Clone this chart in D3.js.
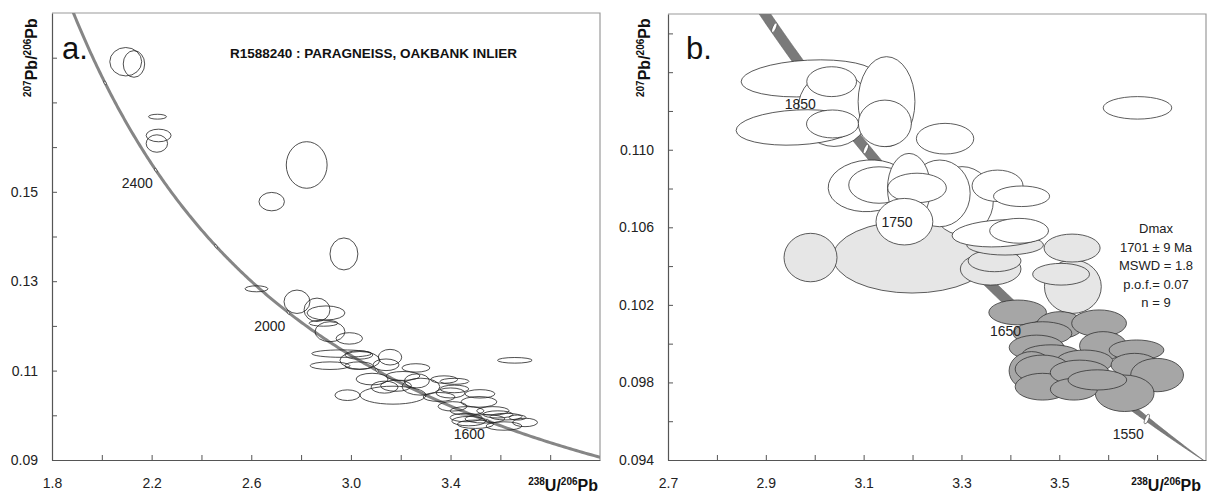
<!DOCTYPE html>
<html>
<head>
<meta charset="utf-8">
<script src="https://cdn.jsdelivr.net/npm/d3@7"></script>
<style>
  body { margin: 0; background: #fff; }
  svg { display: block; }
  text { font-family: "Liberation Sans", Arial, sans-serif; }
</style>
</head>
<body>
<svg id="chart" width="1214" height="496"></svg>
<script>
// ---- Tera-Wasserburg data: [238U/206Pb, 207Pb/206Pb, half-axis x, half-axis y, tilt deg] ----

// Panel a: all analyses
const spotsA = [
  [2.096, 0.1791, 0.064, 0.00318], [2.129, 0.1786, 0.043, 0.00298],
  [2.2235, 0.1668, 0.036, 0.00054], [2.228, 0.1626, 0.050, 0.00141], [2.221, 0.1608, 0.043, 0.00195],
  [2.8225, 0.1560, 0.082, 0.00521], [2.682, 0.1478, 0.051, 0.00206], [2.972, 0.1361, 0.056, 0.00358],
  [2.621, 0.1283, 0.046, 0.00067], [2.7835, 0.1254, 0.052, 0.00262], [2.864, 0.1236, 0.052, 0.00262],
  [2.900, 0.1229, 0.076, 0.00157], [2.890, 0.1206, 0.058, 0.00067], [2.916, 0.1187, 0.060, 0.00224],
  [2.9935, 0.1172, 0.053, 0.00128], [2.963, 0.1138, 0.120, 0.00083], [3.032, 0.1135, 0.056, 0.00094],
  [3.036, 0.1123, 0.080, 0.00197], [3.157, 0.1130, 0.047, 0.00175], [2.916, 0.1111, 0.080, 0.00085],
  [3.032, 0.1111, 0.056, 0.00085], [3.141, 0.1113, 0.052, 0.00130], [3.261, 0.1106, 0.056, 0.00094],
  [3.085, 0.1081, 0.064, 0.00130], [3.181, 0.1066, 0.062, 0.00123], [3.265, 0.1077, 0.050, 0.00157],
  [3.209, 0.1088, 0.068, 0.00100], [2.986, 0.1045, 0.050, 0.00119], [3.169, 0.1045, 0.1325, 0.00201],
  [3.281, 0.1064, 0.076, 0.00190], [3.374, 0.1080, 0.054, 0.00083], [3.416, 0.1076, 0.058, 0.00067],
  [3.415, 0.1059, 0.058, 0.00085], [3.354, 0.1041, 0.064, 0.00100], [3.400, 0.1050, 0.058, 0.00112],
  [3.518, 0.1048, 0.060, 0.00094], [3.514, 0.1030, 0.072, 0.00119], [3.408, 0.1020, 0.058, 0.00105],
  [3.466, 0.1010, 0.068, 0.00094], [3.570, 0.1010, 0.065, 0.00094], [3.6225, 0.0997, 0.064, 0.00074],
  [3.669, 0.0995, 0.034, 0.00056], [3.699, 0.0984, 0.050, 0.00094], [3.6145, 0.0976, 0.072, 0.00094],
  [3.462, 0.0995, 0.064, 0.00094], [3.473, 0.0987, 0.068, 0.00105], [3.500, 0.0980, 0.073, 0.00094],
  [3.538, 0.0992, 0.080, 0.00094], [3.658, 0.1123, 0.0695, 0.00063], [3.135, 0.1063, 0.054, 0.00134],
  [3.590, 0.1002, 0.060, 0.00080]
];

// Panel b: older / discordant analyses (open)
const openB = [
  [2.9873, 0.11368, 0.138, 0.00094, -3], [3.0395, 0.11210, 0.0736, 0.00193, 0],
  [3.0346, 0.11351, 0.0509, 0.00077, 0], [3.1468, 0.11248, 0.0581, 0.00232, 0],
  [2.9638, 0.11115, 0.1247, 0.00090, -3], [3.0364, 0.11133, 0.0532, 0.00072, 0],
  [3.1434, 0.11136, 0.0542, 0.00120, 0], [3.2665, 0.11057, 0.0587, 0.00079, 0],
  [3.6599, 0.11216, 0.0701, 0.00058, 0],
  [3.1104, 0.10814, 0.0830, 0.00133, -4], [3.1315, 0.10818, 0.0620, 0.00094, 0],
  [3.3012, 0.10737, 0.0640, 0.00176, 0], [3.2556, 0.10775, 0.0622, 0.00172, 0],
  [3.1928, 0.10801, 0.0440, 0.00180, 0], [3.2092, 0.10803, 0.0600, 0.00076, 0],
  [3.3738, 0.10814, 0.0521, 0.00081, 0], [3.4229, 0.10760, 0.0573, 0.00053, 0],
  [3.1834, 0.10629, 0.0581, 0.00120, 0], [3.3789, 0.10569, 0.0982, 0.00069, -3],
  [3.4178, 0.10582, 0.0601, 0.00064, 0]
];

// Panel b: intermediate analyses (light grey)
const midB = [
  [3.1990, 0.10447, 0.1616, 0.00186, 0], [2.9914, 0.10444, 0.0542, 0.00125, 0],
  [3.3597, 0.10385, 0.0620, 0.00083, 0], [3.3677, 0.10427, 0.0540, 0.00056, 0],
  [3.5278, 0.10294, 0.0581, 0.00138, 0], [3.5037, 0.10358, 0.0581, 0.00056, 0],
  [3.5262, 0.10493, 0.0573, 0.00072, 0], [3.3892, 0.10509, 0.0785, 0.00052, 0]
];

// Panel b: youngest population used for Dmax (dark grey)
const youngB = [
  [3.4149, 0.10161, 0.0589, 0.00064, 0], [3.5016, 0.10096, 0.0481, 0.00069, 0],
  [3.5814, 0.10105, 0.0560, 0.00069, 0], [3.4656, 0.10053, 0.0601, 0.00060, 0],
  [3.5896, 0.09989, 0.0481, 0.00073, 0], [3.6579, 0.09967, 0.0560, 0.00052, 0],
  [3.4536, 0.09980, 0.0560, 0.00064, 0], [3.4832, 0.09947, 0.0581, 0.00047, 0],
  [3.5517, 0.09907, 0.0581, 0.00060, 0], [3.4434, 0.09860, 0.0460, 0.00099, 0],
  [3.4658, 0.09869, 0.0560, 0.00072, 0], [3.4658, 0.09778, 0.0560, 0.00069, 0],
  [3.5417, 0.09851, 0.0601, 0.00064, 0], [3.6540, 0.09890, 0.0481, 0.00060, 0],
  [3.7000, 0.09838, 0.0540, 0.00086, 0], [3.6337, 0.09744, 0.0601, 0.00094, 0],
  [3.5299, 0.09765, 0.0481, 0.00056, 0], [3.5779, 0.09813, 0.0600, 0.00052, 0]
];

// Axis ticks and labels
const xTicksA = [1.8, 2.0, 2.2, 2.4, 2.6, 2.8, 3.0, 3.2, 3.4, 3.6, 3.8];
const xLabelsA = ["1.8", "", "2.2", "", "2.6", "", "3.0", "", "3.4", "", ""];
const yTicksA = [0.09, 0.10, 0.11, 0.12, 0.13, 0.14, 0.15, 0.16, 0.17, 0.18];
const yLabelsA = ["0.09", "", "0.11", "", "0.13", "", "0.15", "", "", ""];
const xTicksB = [2.7, 2.8, 2.9, 3.0, 3.1, 3.2, 3.3, 3.4, 3.5, 3.6, 3.7];
const xLabelsB = ["2.7", "", "2.9", "", "3.1", "", "3.3", "", "3.5", "", ""];
const yTicksB = [0.094, 0.096, 0.098, 0.100, 0.102, 0.104, 0.106, 0.108, 0.110, 0.112, 0.114, 0.116];
const yLabelsB = ["0.094", "", "0.098", "", "0.102", "", "0.106", "", "0.110", "", "", ""];

// Concordia age marks (Ma)
const marksA = [1600, 1800, 2000, 2200, 2400, 2600];
const markLabelsA = [1600, 2000, 2400];
const marksB = [1550, 1600, 1650, 1700, 1750, 1800, 1850, 1900];
const markLabelsB = [1550, 1650, 1750, 1850];

const sampleTitle = "R1588240 : PARAGNEISS, OAKBANK INLIER";
const dmaxLines = ["Dmax", "1701 \u00b1 9 Ma", "MSWD = 1.8", "p.o.f.= 0.07", "n = 9"];

// ---- Concordia (Tera-Wasserburg) ----
const L238 = 1.55125e-4, L235 = 9.8485e-4, U85 = 137.88; // per Ma
function tw(t) {
  const e8 = Math.exp(L238 * t) - 1, e5 = Math.exp(L235 * t) - 1;
  return [1 / e8, e5 / e8 / U85];
}

const svg = d3.select("#chart");

const panels = [
  { id: "a", x: d3.scaleLinear([1.8, 4.0], [52, 600]), y: d3.scaleLinear([0.09, 0.19], [460, 13]),
    xt: xTicksA, xl: xLabelsA, yt: yTicksA, yl: yLabelsA, yTitleX: 37, xTitleX: 598 },
  { id: "b", x: d3.scaleLinear([2.7, 3.8], [668, 1206]), y: d3.scaleLinear([0.094, 0.117], [460, 14]),
    xt: xTicksB, xl: xLabelsB, yt: yTicksB, yl: yLabelsB, yTitleX: 650, xTitleX: 1201 }
];

panels.forEach(p => {
  const [x0, x1] = p.x.range(), [y0, y1] = p.y.range();
  svg.append("clipPath").attr("id", "clip-" + p.id)
    .append("rect").attr("x", x0).attr("y", y1).attr("width", x1 - x0).attr("height", y0 - y1);
  // frame top/right
  svg.append("path").attr("d", `M${x0},${y1}H${x1}V${y0}`)
    .attr("fill", "none").attr("stroke", "#9a9a9a").attr("stroke-width", 1.2);
  p.plot = svg.append("g").attr("clip-path", `url(#clip-${p.id})`);
});

function ellipses(g, data, p, fill, stroke, sw) {
  g.selectAll(null).data(data).join("ellipse")
    .attr("cx", d => p.x(d[0])).attr("cy", d => p.y(d[1]))
    .attr("rx", d => p.x(d[0] + d[2]) - p.x(d[0]))
    .attr("ry", d => p.y(d[1]) - p.y(d[1] + d[3]))
    .attr("transform", d => d[4] ? `rotate(${d[4]},${p.x(d[0])},${p.y(d[1])})` : null)
    .attr("fill", fill).attr("stroke", stroke).attr("stroke-width", sw);
}

// ---- Panel a ----
(function () {
  const p = panels[0];
  const ages = d3.range(1350, 3100, 4);
  const line = d3.line().x(t => p.x(tw(t)[0])).y(t => p.y(tw(t)[1]));
  p.plot.append("path").attr("d", line(ages)).attr("fill", "none")
    .attr("stroke", "#868686").attr("stroke-width", 3);
  p.plot.selectAll(null).data(marksA).join("ellipse")
    .attr("cx", t => p.x(tw(t)[0])).attr("cy", t => p.y(tw(t)[1]))
    .attr("rx", 0.9).attr("ry", 2.2)
    .attr("transform", t => `rotate(-30,${p.x(tw(t)[0])},${p.y(tw(t)[1])})`)
    .attr("fill", "#fff").attr("stroke", "#333").attr("stroke-width", 0.7);
  ellipses(p.plot, spotsA, p, "none", "#222", 0.8);
  svg.append("g").selectAll("text").data(markLabelsA).join("text")
    .attr("x", t => p.x(tw(t)[0]) - 3).attr("y", t => p.y(tw(t)[1]) + 18)
    .attr("text-anchor", "end").attr("font-size", 14).attr("fill", "#222").text(t => t);
  svg.append("text").attr("x", 230).attr("y", 58).attr("font-size", 13.5)
    .attr("font-weight", "bold").attr("fill", "#111").text(sampleTitle);
})();

// ---- Panel b ----
(function () {
  const p = panels[1];
  const tEnd = 1506;
  const ages = d3.range(tEnd, 1990, 2);
  const pts = ages.map(t => [p.x(tw(t)[0]), p.y(tw(t)[1])]);
  const up = [], lo = [];
  pts.forEach((q, i) => {
    const a = pts[Math.max(i - 1, 0)], b = pts[Math.min(i + 1, pts.length - 1)];
    const dx = b[0] - a[0], dy = b[1] - a[1], L = Math.hypot(dx, dy);
    const h = 4.8 * Math.min(1, (ages[i] - tEnd) / 95);
    const nx = -dy / L * h, ny = dx / L * h;
    up.push([q[0] + nx, q[1] + ny]);
    lo.push([q[0] - nx, q[1] - ny]);
  });
  p.plot.append("path").attr("d", d3.line()(up.concat(lo.reverse())) + "Z")
    .attr("fill", "#7a7a7a").attr("stroke", "#666").attr("stroke-width", 0.6);
  p.plot.selectAll(null).data(marksB).join("ellipse")
    .attr("cx", t => p.x(tw(t)[0])).attr("cy", t => p.y(tw(t)[1]))
    .attr("rx", 1.8).attr("ry", 5.2)
    .attr("transform", t => `rotate(22,${p.x(tw(t)[0])},${p.y(tw(t)[1])})`)
    .attr("fill", "#fff").attr("stroke", "#444").attr("stroke-width", 0.6);
  ellipses(p.plot, midB, p, "#e6e6e6", "#333", 0.8);
  ellipses(p.plot, openB, p, "#fff", "#333", 0.8);
  ellipses(p.plot, youngB, p, "#a6a6a6", "#333", 0.8);
  svg.append("g").selectAll("text").data(markLabelsB).join("text")
    .attr("x", t => p.x(tw(t)[0]) - 3).attr("y", t => p.y(tw(t)[1]) + 20)
    .attr("text-anchor", "end").attr("font-size", 14).attr("fill", "#222").text(t => t);
  svg.append("g").selectAll("text").data(dmaxLines).join("text")
    .attr("x", 1156).attr("y", (d, i) => 233 + i * 18.5)
    .attr("text-anchor", "middle").attr("font-size", 13).attr("fill", "#222").text(d => d);
})();

// ---- Axes, titles ----
panels.forEach(p => {
  const [x0] = p.x.range(), [y0] = p.y.range();
  const ax = d3.axisBottom(p.x).tickValues(p.xt).tickSizeInner(-5).tickSizeOuter(0)
    .tickPadding(14).tickFormat((d, i) => p.xl[i]);
  const gx = svg.append("g").attr("transform", `translate(0,${y0})`).call(ax);
  const ay = d3.axisLeft(p.y).tickValues(p.yt).tickSizeInner(-5).tickSizeOuter(0)
    .tickPadding(14).tickFormat((d, i) => p.yl[i]);
  const gy = svg.append("g").attr("transform", `translate(${x0},0)`).call(ay);
  [gx, gy].forEach(g => {
    g.select(".domain").attr("stroke", "#555").attr("stroke-width", 1.2);
    g.selectAll(".tick line").attr("stroke", "#555");
    g.selectAll(".tick text").attr("font-size", 14).attr("fill", "#222")
      .attr("font-family", "'Liberation Sans', Arial, sans-serif");
  });
  gx.selectAll(".tick text").attr("dy", "0.71em").attr("y", 18);

  // y title: 207Pb/206Pb
  const yt = svg.append("text").attr("transform", `translate(${p.yTitleX},97) rotate(-90)`)
    .attr("font-size", 16).attr("font-weight", "bold").attr("fill", "#111");
  yt.append("tspan").attr("font-size", 10).attr("dy", -6).text("207");
  yt.append("tspan").attr("dy", 6).text("Pb/");
  yt.append("tspan").attr("font-size", 10).attr("dy", -6).text("206");
  yt.append("tspan").attr("dy", 6).text("Pb");

  // x title: 238U/206Pb
  const xt = svg.append("text").attr("x", p.xTitleX).attr("y", 491).attr("text-anchor", "end")
    .attr("font-size", 16).attr("font-weight", "bold").attr("fill", "#111");
  xt.append("tspan").attr("font-size", 10).attr("dy", -6).text("238");
  xt.append("tspan").attr("dy", 6).text("U/");
  xt.append("tspan").attr("font-size", 10).attr("dy", -6).text("206");
  xt.append("tspan").attr("dy", 6).text("Pb");

  svg.append("text").attr("x", x0 + (p.id === "a" ? 10 : 18)).attr("y", 59)
    .attr("font-size", 31).attr("fill", "#111").text(p.id + ".");
});
</script>
</body>
</html>
